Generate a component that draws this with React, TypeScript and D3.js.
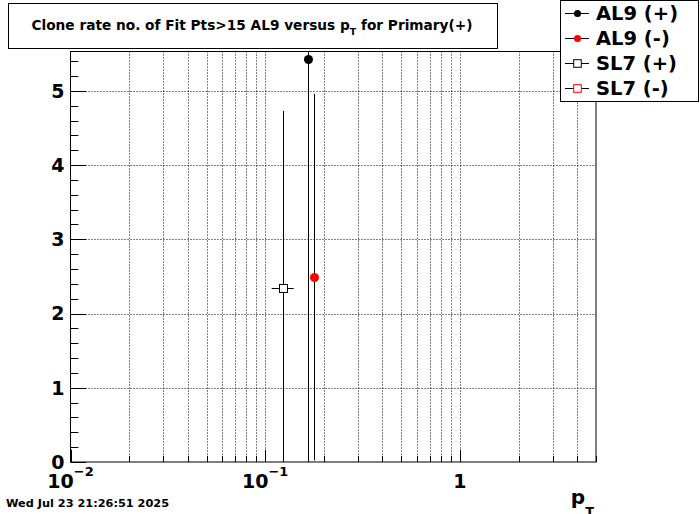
import React from "react";
import * as d3 from "d3";

// series
const seriesNames = ["AL9 (+)", "AL9 (-)", "SL7 (+)", "SL7 (-)"];
const seriesColors = ["#000000", "#ff0000", "#000000", "#ff0000"];
const seriesMarkers = ["circle", "circle", "square", "square"];

const al9PlusX = [0.165];
const al9PlusY = [5.43];
const al9PlusErr = [5.43];

const al9MinusX = [0.178];
const al9MinusY = [2.49];
const al9MinusErr = [2.47];

const sl7PlusX = [0.124];
const sl7PlusXLo = [0.108];
const sl7PlusXHi = [0.14];
const sl7PlusY = [2.35];
const sl7PlusErr = [2.38];

const xTickLabels = [
  { v: 0.01, base: "10", exp: "\u22122" },
  { v: 0.1, base: "10", exp: "\u22121" },
  { v: 1, base: "1", exp: "" },
];

const titleText = "Clone rate no. of Fit Pts>15 AL9 versus p";
const dateText = "Wed Jul 23 21:26:51 2025";

const W = 700;
const H = 514;
const frame = { left: 70.5, right: 596, top: 51.5, bottom: 462 };
const font = "'DejaVu Sans', sans-serif";

export default function App() {
  const x = d3.scaleLog().domain([0.01, 5]).range([frame.left, frame.right]);
  const y = d3.scaleLinear().domain([0, 5.53]).range([frame.bottom, frame.top]);

  const xTicks = x.ticks();
  const isMajor = (v: number) => Math.abs(Math.log10(v) - Math.round(Math.log10(v))) < 1e-9;
  const yMajor = y.ticks(6);
  const yMinor = d3.ticks(0, 5.53, 27);
  const fw = frame.right - frame.left;
  const fh = frame.bottom - frame.top;

  const points = [
    { s: 0, xs: al9PlusX, ys: al9PlusY, es: al9PlusErr, xlo: null, xhi: null },
    { s: 1, xs: al9MinusX, ys: al9MinusY, es: al9MinusErr, xlo: null, xhi: null },
    { s: 2, xs: sl7PlusX, ys: sl7PlusY, es: sl7PlusErr, xlo: sl7PlusXLo, xhi: sl7PlusXHi },
  ];

  const marker = (s: number, cx: number, cy: number, r: number, key: string) =>
    seriesMarkers[s] === "circle" ? (
      <circle key={key} cx={cx} cy={cy} r={r} fill={seriesColors[s]} />
    ) : (
      <rect
        key={key}
        x={cx - r}
        y={cy - r}
        width={2 * r}
        height={2 * r}
        fill="white"
        stroke={seriesColors[s]}
        strokeWidth={1}
      />
    );

  return (
    <svg
      width={W}
      height={H}
      style={{ position: "absolute", left: 0, top: 0, background: "white" }}
      fontFamily={font}
    >
      <defs>
        <clipPath id="frameClip">
          <rect x={frame.left} y={frame.top} width={fw} height={fh} />
        </clipPath>
      </defs>
      <rect width={W} height={H} fill="white" />

      {/* grid */}
      <g stroke="black" strokeWidth={1} strokeDasharray="1,2">
        {xTicks
          .filter((v) => v > 0.01 && v < 5)
          .map((v, i) => (
            <line key={"gx" + i} x1={Math.round(x(v)) + 0.5} x2={Math.round(x(v)) + 0.5} y1={frame.top} y2={frame.bottom} />
          ))}
        {yMajor
          .filter((v) => v > 0)
          .map((v, i) => (
            <line key={"gy" + i} x1={frame.left} x2={frame.right} y1={Math.round(y(v)) + 0.5} y2={Math.round(y(v)) + 0.5} />
          ))}
      </g>

      {/* frame */}
      <rect x={frame.left} y={frame.top} width={fw} height={fh} fill="none" stroke="black" strokeWidth={1} />

      {/* ticks */}
      <g stroke="black" strokeWidth={1}>
        {xTicks.map((v, i) => {
          const px = Math.round(x(v)) + 0.5;
          const len = isMajor(v) ? fh * 0.03 : fh * 0.015;
          return <line key={"tx" + i} x1={px} x2={px} y1={frame.bottom} y2={frame.bottom - len} />;
        })}
        {yMinor.map((v, i) => {
          const py = Math.round(y(v)) + 0.5;
          const len = Math.abs(v - Math.round(v)) < 1e-9 ? fw * 0.03 : fw * 0.015;
          return <line key={"ty" + i} x1={frame.left} x2={frame.left + len} y1={py} y2={py} />;
        })}
      </g>

      {/* y labels */}
      <g fontSize={19} fontWeight="bold" textAnchor="end">
        {yMajor.map((v, i) => (
          <text key={"ly" + i} x={frame.left - 6} y={y(v)} dy="0.36em">
            {v}
          </text>
        ))}
      </g>

      {/* x labels */}
      <g fontSize={19} fontWeight="bold" textAnchor="middle">
        {xTickLabels.map((t, i) => (
          <text key={"lx" + i} x={x(t.v)} y={488}>
            {t.base}
            {t.exp && (
              <tspan fontSize={13} dy={-12}>
                {t.exp}
              </tspan>
            )}
          </text>
        ))}
      </g>

      {/* axis title */}
      <text x={frame.right - 2} y={504} fontSize={20} fontWeight="bold" textAnchor="end">
        p
        <tspan fontSize={13} dy={12}>
          T
        </tspan>
      </text>

      {/* data */}
      <g clipPath="url(#frameClip)">
        {points.map((p) =>
          p.xs.map((xv, i) => {
            const cx = x(xv);
            const cy = y(p.ys[i]);
            const px = Math.round(cx) + 0.5;
            return (
              <g key={"p" + p.s + "-" + i}>
                <line x1={px} x2={px} y1={y(p.ys[i] + p.es[i])} y2={y(Math.max(0, p.ys[i] - p.es[i]))} stroke="black" strokeWidth={1} />
                {p.xlo && (
                  <line x1={x(p.xlo[i])} x2={x(p.xhi![i])} y1={Math.round(cy) + 0.5} y2={Math.round(cy) + 0.5} stroke="black" strokeWidth={1} />
                )}
                {marker(p.s, px, Math.round(cy) + 0.5, p.s === 2 ? 4 : 4.5, "m")}
              </g>
            );
          })
        )}
      </g>

      {/* title box */}
      <rect x={8.5} y={3.5} width={489} height={45} fill="white" stroke="black" strokeWidth={1} />
      <text x={252} y={30} fontSize={13.7} fontWeight="bold" textAnchor="middle">
        {titleText}
        <tspan fontSize={9.5} dy={5}>
          T
        </tspan>
        <tspan dy={-5}> for Primary(+)</tspan>
      </text>

      {/* legend */}
      <rect x={560.5} y={0.5} width={138} height={101} fill="white" stroke="black" strokeWidth={1} />
      {seriesNames.map((name, i) => {
        const ry = 12.5 + i * 25.2;
        return (
          <g key={"leg" + i}>
            <line x1={565} x2={589} y1={Math.round(ry) + 0.5} y2={Math.round(ry) + 0.5} stroke="black" strokeWidth={1} />
            {marker(i, 577.5, Math.round(ry) + 0.5, seriesMarkers[i] === "circle" ? 3.5 : 3.8, "lm")}
            <text x={596} y={ry} dy="0.36em" fontSize={19.5} fontWeight="bold">
              {name}
            </text>
          </g>
        );
      })}

      {/* date stamp */}
      <text x={6} y={507} fontSize={11.3} fontWeight="bold">
        {dateText}
      </text>
    </svg>
  );
}
